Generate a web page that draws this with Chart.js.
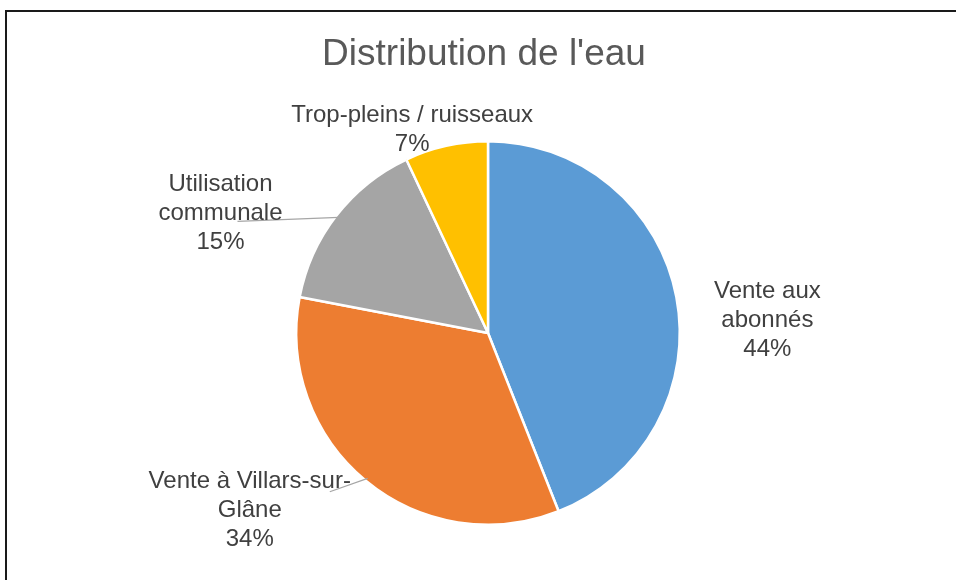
<!DOCTYPE html>
<html>
<head>
<meta charset="utf-8">
<script src="https://cdn.jsdelivr.net/npm/chart.js@4.4.1/dist/chart.umd.min.js"></script>
<style>
  html, body { margin: 0; padding: 0; background: #fff; }
  #wrap { position: relative; width: 956px; height: 580px; }
</style>
</head>
<body>
<div id="wrap"><canvas id="waterChart" width="956" height="580"></canvas></div>
<script>
const chartTitle = "Distribution de l'eau";
const categories = [
  ['Vente aux', 'abonnés'],
  ['Vente à Villars-sur-', 'Glâne'],
  ['Utilisation', 'communale'],
  ['Trop-pleins / ruisseaux']
];
const shares = [44, 34, 15, 7];
const sliceColors = ['#5B9BD5', '#ED7D31', '#A5A5A5', '#FFC000'];

// label block offset from the slice's outer edge midpoint, and leader end relative to label centre
const labelOffsets = [[91, 23], [-116, 30], [-116, -2], [-34, -16]];
const leaderEnds = [null, [80, -19], [17, 8], null];

const labelsPlugin = {
  id: 'pieLabels',
  afterDraw(chart) {
    const ctx = chart.ctx;
    ctx.save();

    // outer frame
    ctx.strokeStyle = '#1a1a1a';
    ctx.lineWidth = 2;
    ctx.strokeRect(6, 11, 1000, 1000);

    // title
    ctx.fillStyle = '#595959';
    ctx.font = '37px "Liberation Sans", Arial, sans-serif';
    ctx.textAlign = 'center';
    ctx.textBaseline = 'middle';
    ctx.fillText(chartTitle, 484, 55);

    const arcs = chart.getDatasetMeta(0).data;
    arcs.forEach((arc, i) => {
      const p = arc.getProps(['x', 'y', 'startAngle', 'endAngle', 'outerRadius'], true);
      const mid = (p.startAngle + p.endAngle) / 2;
      const ex = p.x + Math.cos(mid) * p.outerRadius;
      const ey = p.y + Math.sin(mid) * p.outerRadius;
      const cx = ex + labelOffsets[i][0];
      const cy = ey + labelOffsets[i][1];

      if (leaderEnds[i]) {
        ctx.strokeStyle = '#A6A6A6';
        ctx.lineWidth = 1.3;
        ctx.beginPath();
        ctx.moveTo(ex - Math.cos(mid) * 3, ey - Math.sin(mid) * 3);
        ctx.lineTo(cx + leaderEnds[i][0], cy + leaderEnds[i][1]);
        ctx.stroke();
      }

      const lines = categories[i].concat([shares[i] + '%']);
      const lh = 29;
      ctx.fillStyle = '#404040';
      ctx.font = '24px "Liberation Sans", Arial, sans-serif';
      ctx.textAlign = 'center';
      ctx.textBaseline = 'middle';
      lines.forEach((t, k) => {
        ctx.fillText(t, cx, cy + (k - (lines.length - 1) / 2) * lh);
      });
    });
    ctx.restore();
  }
};

new Chart(document.getElementById('waterChart'), {
  type: 'pie',
  data: {
    labels: categories.map(c => c.join(' ')),
    datasets: [{
      data: shares,
      backgroundColor: sliceColors,
      borderColor: '#ffffff',
      borderWidth: 2.5
    }]
  },
  options: {
    responsive: false,
    animation: false,
    layout: { padding: { top: 140, bottom: 54, left: 295, right: 275 } },
    plugins: {
      legend: { display: false },
      tooltip: { enabled: false }
    }
  },
  plugins: [labelsPlugin]
});
</script>
</body>
</html>
